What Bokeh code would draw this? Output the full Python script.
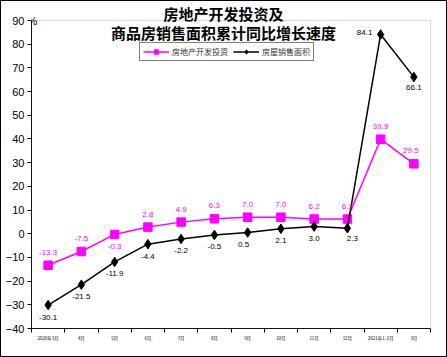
from bokeh.plotting import figure
from bokeh.models import (ColumnDataSource, LabelSet, Label, Legend, LegendItem,
                          FixedTicker, BoxAnnotation, Range1d)
from bokeh.core.properties import value
from bokeh.embed import file_html
from bokeh.resources import INLINE

categories = ["2020年3月", "4月", "5月", "6月", "7月", "8月", "9月", "10月",
              "11月", "12月", "2021年1-2月", "3月"]
investment = [-13.3, -7.5, -0.3, 2.8, 4.9, 6.3, 7.0, 7.0, 6.2, 6.2, 39.9, 29.5]
sales_area = [-30.1, -21.5, -11.9, -4.4, -2.2, -0.5, 0.5, 2.1, 3.0, 2.3, 84.1, 66.1]
y_ticks = list(range(-40, 100, 10))
title_lines = ["房地产开发投资及", "商品房销售面积累计同比增长速度"]
series_names = ["房地产开发投资", "房屋销售面积"]

# layout constants (canvas pixels)
W, H = 447, 357
PL, PR, PT, PB = 30, 429, 19, 327      # plot-area box edges
YMIN, YMAX = -40, 90
n = len(categories)
xs = list(range(n))

def px2x(px):
    return -0.5 + (px - PL) / (PR - PL) * n

def px2y(py):
    return YMAX - (py - PT) / (PB - PT) * (YMAX - YMIN)

PINK = "#FF00FF"
FONT = "Liberation Sans"
CJK = "Noto Sans CJK SC"

# frame: from the left axis to the right edge, from the top edge to the bottom axis
p = figure(width=W, height=H, output_backend="svg", toolbar_location=None,
           x_range=Range1d(-0.5, px2x(W)), y_range=Range1d(YMIN, px2y(0)),
           min_border_left=PL, min_border_right=0,
           min_border_top=0, min_border_bottom=H - PB,
           styles={"border": "1px solid black"})
p.xgrid.visible = False
p.ygrid.visible = False
p.outline_line_color = None
p.background_fill_color = "white"
p.border_fill_color = "white"

# y axis
ya = p.yaxis[0]
ya.ticker = FixedTicker(ticks=y_ticks)
ya.bounds = (YMIN, YMAX)
ya.minor_tick_line_color = None
ya.major_tick_in = 0
ya.major_tick_out = 4
ya.major_label_standoff = 3
ya.axis_line_color = "black"
ya.major_tick_line_color = "black"
ya.major_label_text_font = FONT
ya.major_label_text_font_size = "11px"
ya.major_label_text_color = "black"

# x axis
xa = p.xaxis[0]
xa.ticker = FixedTicker(ticks=xs, minor_ticks=[i - 0.5 for i in range(n + 1)])
xa.bounds = (-0.5, n - 0.5)
xa.major_tick_line_color = None
xa.major_tick_out = 3
xa.major_tick_in = 0
xa.minor_tick_line_color = "black"
xa.minor_tick_out = 4
xa.minor_tick_in = 0
xa.axis_line_color = "black"
xa.major_label_overrides = {i: categories[i] for i in xs}
xa.major_label_text_font = CJK
xa.major_label_text_font_size = "4.5px"
xa.major_label_text_color = "black"
xa.major_label_standoff = 2

# gray plot-area border (top and right)
p.add_layout(BoxAnnotation(left=-0.5, right=n - 0.5, bottom=YMIN, top=YMAX,
                           fill_alpha=0, line_color="#808080", line_width=1))

# series
r1l = p.line(xs, investment, line_color=PINK, line_width=1.5)
r1m = p.scatter(xs, investment, marker="square", size=8.5, fill_color=PINK, line_color=PINK)
r2l = p.line(xs, sales_area, line_color="black", line_width=1.5)
r2m = p.scatter(xs, sales_area, marker="diamond", size=9.5, fill_color="black", line_color="black")

# data labels
pink_yo = [13] * n
pink_yo[2] = -12
pink_xo = [0] * n
pink_xo[11] = -3
src1 = ColumnDataSource(dict(x=xs, y=investment, t=[f"{v:.1f}" for v in investment],
                             xo=pink_xo, yo=pink_yo))
p.add_layout(LabelSet(x="x", y="y", text="t", source=src1, x_offset="xo", y_offset="yo",
                      text_align="center", text_baseline="middle", text_font=value(FONT),
                      text_font_size="8px", text_color=PINK))

blk_yo = [-12] * n
blk_xo = [0] * n
blk_xo[10], blk_yo[10] = -16, 2
blk_yo[11] = -10
blk_xo[9], blk_yo[9] = 5, -10
blk_xo[6] = -4
src2 = ColumnDataSource(dict(x=xs, y=sales_area, t=[f"{v:.1f}" for v in sales_area],
                             xo=blk_xo, yo=blk_yo))
p.add_layout(LabelSet(x="x", y="y", text="t", source=src2, x_offset="xo", y_offset="yo",
                      text_align="center", text_baseline="middle", text_font=value(FONT),
                      text_font_size="8px", text_color="black"))

# "%" unit label
p.add_layout(Label(x=px2x(26), y=YMAX, text="%", text_align="left", text_baseline="middle",
                   text_font=FONT, text_font_size="11px", text_color="black"))

# title
for line, py in zip(title_lines, [12, 31]):
    p.add_layout(Label(x=px2x(222), y=px2y(py), text=line, text_align="center",
                       text_baseline="middle", text_font=CJK, text_font_size="15px",
                       text_font_style="bold", text_color="black"))

# legend
legend = Legend(items=[LegendItem(label=series_names[0], renderers=[r1l, r1m]),
                       LegendItem(label=series_names[1], renderers=[r2l, r2m])],
                orientation="horizontal", location=(108, 267),
                label_text_font=CJK, label_text_font_size="8px", label_text_color="#333333",
                glyph_width=26, glyph_height=11, label_height=11, label_standoff=3,
                spacing=5, padding=3, margin=0,
                border_line_color="black", border_line_width=1,
                background_fill_color="white", background_fill_alpha=1.0)
p.add_layout(legend)

open("out.html", "w").write(file_html(p, INLINE))
